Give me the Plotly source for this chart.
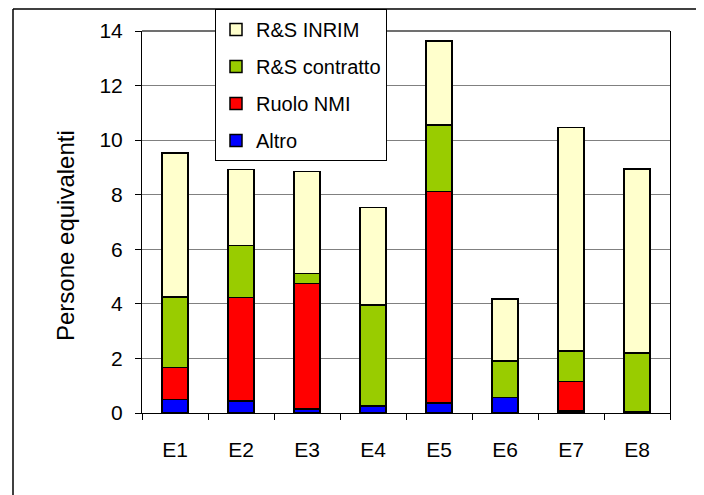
import plotly.graph_objects as go

categories = ["E1", "E2", "E3", "E4", "E5", "E6", "E7", "E8"]
altro = [0.50, 0.44, 0.15, 0.26, 0.36, 0.57, 0.07, 0.05]
ruolo_nmi = [1.17, 3.80, 4.60, 0.00, 7.75, 0.00, 1.08, 0.00]
rs_contratto = [2.58, 1.90, 0.37, 3.69, 2.44, 1.33, 1.12, 2.14]
rs_inrim = [5.27, 2.79, 3.74, 3.59, 3.08, 2.28, 8.20, 6.75]

series_names = ["Altro", "Ruolo NMI", "R&S contratto", "R&S INRIM"]
series_values = [altro, ruolo_nmi, rs_contratto, rs_inrim]
series_colors = ["#0000FF", "#FF0000", "#99CC00", "#FFFFCC"]
legend_ranks = [4, 3, 2, 1]
y_title = "Persone equivalenti"

FONT = "Liberation Sans, Arial, sans-serif"

fig = go.Figure()
for name, vals, col, rk in zip(series_names, series_values, series_colors, legend_ranks):
    fig.add_trace(go.Bar(
        x=categories, y=vals, name=name, legendgroup=name, legendrank=rk,
        marker=dict(color=col, line=dict(color="#000000", width=1.5)),
    ))

# page has an 8px body margin; the figure starts at (8, 8) in the window
OFF = 8
W, H = 704 - OFF, 495 - OFF
L, R, T, B = 142 - OFF, 34, 31 - OFF, 82
pw, ph = W - L - R, H - T - B

def px(x):
    return (x - OFF - L) / pw

def py(y):
    return (H - B - (y - OFF)) / ph

fig.update_layout(
    width=W, height=H,
    margin=dict(l=L, r=R, t=T, b=B, autoexpand=False),
    barmode="stack", bargap=0.61,
    plot_bgcolor="white", paper_bgcolor="white",
    font=dict(family=FONT, size=21, color="#000000"),
    legend=dict(
        x=px(215), y=py(9), xanchor="left", yanchor="top",
        traceorder="grouped", tracegroupgap=8,
        bgcolor="white", bordercolor="#000000", borderwidth=1,
        font=dict(family=FONT, size=20, color="#000000"),
        itemwidth=30,
    ),
    xaxis=dict(
        showgrid=False, showline=True, linecolor="#000000", linewidth=1,
        ticks="outside", ticklen=6, tickcolor="#000000", tickson="boundaries",
        ticklabelstandoff=18,
    ),
    yaxis=dict(
        range=[0, 14], dtick=2, showgrid=True, gridcolor="#808080", gridwidth=1,
        showline=True, linecolor="#000000", linewidth=1, mirror=True,
        ticks="outside", ticklen=6, tickcolor="#000000",
        ticklabelstandoff=8, zeroline=False,
    ),
    annotations=[
        dict(text=y_title, xref="paper", yref="paper", x=px(65), y=py(236),
             xanchor="center", yanchor="middle", textangle=-90, showarrow=False,
             font=dict(family=FONT, size=24, color="#000000")),
    ],
    shapes=[
        dict(type="line", xref="paper", yref="paper", x0=px(13), x1=px(720),
             y0=py(9), y1=py(9), line=dict(color="#000000", width=1.5)),
        dict(type="line", xref="paper", yref="paper", x0=px(13), x1=px(13),
             y0=py(9), y1=py(520), line=dict(color="#000000", width=1.5)),
        dict(type="line", xref="paper", yref="paper", x0=0, x1=1,
             y0=1, y1=1, line=dict(color="#404040", width=1.5)),
    ],
)

fig.write_html("out.html")
